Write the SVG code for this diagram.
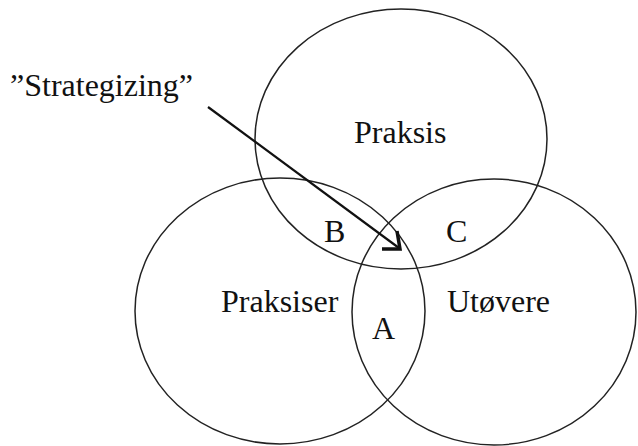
<svg xmlns="http://www.w3.org/2000/svg" width="638" height="446" viewBox="0 0 638 446">
<style>
.c{fill:none;stroke:#222;stroke-width:1.5}
.t{font-family:"Liberation Serif","Times New Roman",serif;font-size:32px;fill:#111}
.a{fill:none;stroke:#111;stroke-width:2.2}
.h{fill:none;stroke:#111;stroke-width:3.5;stroke-linejoin:miter}
</style>
<rect width="638" height="446" fill="#fff"/>
<g id="praksis"><ellipse class="c" cx="401" cy="139" rx="146" ry="130"/><text class="t" x="354" y="143">Praksis</text></g>
<g id="praksiser"><ellipse class="c" cx="280" cy="311" rx="145" ry="133"/><text class="t" x="221" y="312">Praksiser</text></g>
<g id="utovere"><ellipse class="c" cx="494" cy="312" rx="142" ry="133"/><text class="t" x="447" y="312">Utøvere</text></g>
<g id="labels">
<text class="t" x="324" y="242">B</text>
<text class="t" x="446" y="242">C</text>
<text class="t" x="372" y="339">A</text>
</g>
<g id="strategizing"><text class="t" x="10" y="96">”Strategizing”</text></g>
<g id="connectors">
<line class="a" x1="208" y1="107" x2="399" y2="248"/>
<path class="h" d="M382 249 L400 249 L397 231"/>
</g>
</svg>
